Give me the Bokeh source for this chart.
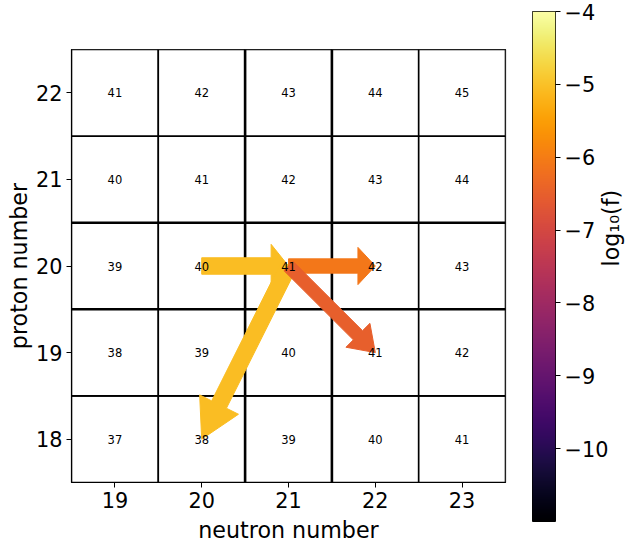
import math
import numpy as np
from bokeh.plotting import figure
from bokeh.layouts import row
from bokeh.models import Range1d, FixedTicker, LinearColorMapper
from bokeh.palettes import Inferno256
from bokeh.embed import file_html
from bokeh.resources import INLINE
from bokeh.core.properties import value

# ---------------- data ----------------
neutron_numbers = [19, 20, 21, 22, 23]
proton_numbers = [18, 19, 20, 21, 22]
# mass-number labels, one row per proton number (18 .. 22), columns N = 19 .. 23
mass_labels = [
    [37, 38, 39, 40, 41],
    [38, 39, 40, 41, 42],
    [39, 40, 41, 42, 43],
    [40, 41, 42, 43, 44],
    [41, 42, 43, 44, 45],
]
# flow arrows (N, Z) start -> end, with log10 of flow
arrow_n0 = [20, 21, 21, 21]
arrow_z0 = [20, 20, 20, 20]
arrow_n1 = [21, 20, 22, 22]
arrow_z1 = [20, 18, 20, 19]
arrow_log10f = [-5.05, -5.05, -6.1, -6.5]

cbar_low, cbar_high = -11, -4
cbar_ticks = [-10, -9, -8, -7, -6, -5, -4]
cbar_title = "log\u2081\u2080(f)"

# ---------------- styles ----------------
shaft_w = [0.19, 0.19, 0.165, 0.15]
head_w = [0.50, 0.50, 0.43, 0.39]
head_frac = 0.2
FONT = "DejaVu Sans"
TICK_FS = "20.8px"
LABEL_FS = "22.2px"
thick_x = [20.5, 21.5]
thick_y = [19.5, 20.5]

def inferno(v):
    t = (v - cbar_low) / (cbar_high - cbar_low)
    i = int(round(min(max(t, 0), 1) * 255))
    return Inferno256[i]

# ---------------- main figure ----------------
p = figure(width=520, height=547, output_backend="svg", toolbar_location=None,
           x_range=Range1d(18.5, 23.5), y_range=Range1d(17.5, 22.5),
           min_border_left=71, min_border_right=15, min_border_top=49, min_border_bottom=65)
p.frame_align = False
p.grid.visible = False
p.background_fill_color = "white"
p.border_fill_color = "white"
p.outline_line_color = "black"
p.outline_line_width = 1.2

cx, cy, ct = [], [], []
for zi, z in enumerate(proton_numbers):
    for ni, n in enumerate(neutron_numbers):
        cx.append(n)
        cy.append(z)
        ct.append(str(mass_labels[zi][ni]))

p.rect(x=cx, y=cy, width=1, height=1, fill_color="white",
       line_color="black", line_width=1.6)

# heavier separators
p.segment(x0=thick_x, y0=[17.5] * len(thick_x), x1=thick_x, y1=[22.5] * len(thick_x),
          line_color="black", line_width=2.6)
p.segment(x0=[18.5] * len(thick_y), y0=thick_y, x1=[23.5] * len(thick_y), y1=thick_y,
          line_color="black", line_width=2.6)

# arrows
xs, ys, cols = [], [], []
for k in range(len(arrow_n0)):
    x0, y0, x1, y1 = arrow_n0[k], arrow_z0[k], arrow_n1[k], arrow_z1[k]
    dx, dy = x1 - x0, y1 - y0
    L = math.hypot(dx, dy)
    ux, uy = dx / L, dy / L
    px, py = -uy, ux
    hl = head_frac * L
    lw, hw = shaft_w[k], head_w[k]
    st = [(L, 0), (L - hl, hw / 2), (L - hl, lw / 2), (0, lw / 2),
          (0, -lw / 2), (L - hl, -lw / 2), (L - hl, -hw / 2)]
    xs.append([x0 + s * ux + t * px for s, t in st])
    ys.append([y0 + s * uy + t * py for s, t in st])
    cols.append(inferno(arrow_log10f[k]))
p.patches(xs=xs, ys=ys, fill_color=cols, line_color=cols, line_width=1)

p.text(x=cx, y=cy, text=ct, text_align="center", text_baseline="middle",
       text_font=value(FONT), text_font_size="11.5px", text_color="black")

for ax in (p.xaxis, p.yaxis):
    ax.major_label_text_font = FONT
    ax.major_label_text_font_size = TICK_FS
    ax.major_label_text_color = "black"
    ax.axis_label_text_font = FONT
    ax.axis_label_text_font_size = LABEL_FS
    ax.axis_label_text_font_style = "normal"
    ax.axis_label_text_color = "black"
    ax.major_tick_in = 0
    ax.major_tick_out = 5
    ax.minor_tick_line_color = None
    ax.axis_line_color = "black"
    ax.major_tick_line_color = "black"
p.xaxis.major_label_standoff = 4
p.xaxis.axis_label_standoff = 6
p.yaxis.major_label_standoff = 4
p.yaxis.axis_label_standoff = 1
p.xaxis.ticker = FixedTicker(ticks=neutron_numbers)
p.yaxis.ticker = FixedTicker(ticks=proton_numbers)
p.xaxis.axis_label = "neutron number"
p.yaxis.axis_label = "proton number"

# ---------------- colour bar ----------------
mapper = LinearColorMapper(palette=Inferno256, low=cbar_low, high=cbar_high)
cb = figure(width=120, height=547, output_backend="svg", toolbar_location=None,
            x_range=Range1d(0, 1), y_range=Range1d(cbar_low, cbar_high),
            x_axis_location=None, y_axis_location="right",
            min_border_left=12, min_border_right=82, min_border_top=11, min_border_bottom=26)
cb.frame_align = False
cb.grid.visible = False
cb.outline_line_color = "black"
cb.outline_line_width = 1
cb.border_fill_color = "white"
grad = np.linspace(cbar_low, cbar_high, 256).reshape(256, 1)
cb.image(image=[grad], x=0, y=cbar_low, dw=1, dh=cbar_high - cbar_low, color_mapper=mapper)
ya = cb.yaxis[0]
ya.ticker = FixedTicker(ticks=cbar_ticks)
ya.major_label_overrides = {t: ("\u2212" + str(abs(t)) if t < 0 else str(t)) for t in cbar_ticks}
ya.major_label_text_font = FONT
ya.major_label_text_font_size = TICK_FS
ya.major_label_text_color = "black"
ya.major_tick_in = 0
ya.major_tick_out = 5
ya.minor_tick_line_color = None
ya.axis_line_color = None
ya.major_label_standoff = 4
ya.axis_label = cbar_title
ya.axis_label_text_font = FONT
ya.axis_label_text_font_size = LABEL_FS
ya.axis_label_text_font_style = "normal"
ya.axis_label_text_color = "black"
ya.axis_label_standoff = 0
ya.axis_label_orientation = math.pi / 2

layout = row(p, cb)
open("out.html", "w").write(file_html(layout, INLINE))
